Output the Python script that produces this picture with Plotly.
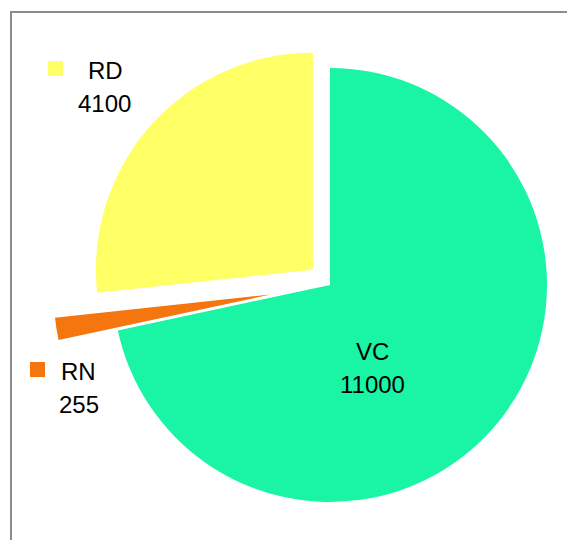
import math
import plotly.graph_objects as go

# ---- data ----
labels = ["VC", "RN", "RD"]
values = [11000, 255, 4100]
colors = ["#19F5A5", "#F5760F", "#FFFF66"]
explode_px = [0, 60, 23]          # how far each slice is pulled out (pixels)

# label placement (pixel centres in the window) – style only
label_pos = {"VC": (372, 351), "RN": (78, 371), "RD": (105, 70)}
value_pos = {"VC": (372, 385), "RN": (79, 404), "RD": (104, 103)}
key_pos = {"RN": (30, 362), "RD": (48, 61)}

W, H = 567, 540
CX, CY, R = 330, 285, 217
FONT = "Liberation Sans"
FS = 24


def px(x):
    return x / W


def py(y):
    return 1 - y / H


total = float(sum(values))
fig = go.Figure()
cum = 0.0
for i, (lab, v) in enumerate(zip(labels, values)):
    mid = (cum + v / 2.0) / total * 2 * math.pi
    cum += v
    cx = CX + math.sin(mid) * explode_px[i]
    cy = CY - math.cos(mid) * explode_px[i]
    cols = [c if j == i else "rgba(0,0,0,0)" for j, c in enumerate(colors)]
    fig.add_trace(go.Pie(
        labels=labels, values=values, sort=False, direction="clockwise",
        rotation=0, textinfo="none", showlegend=False, hoverinfo="label+value",
        marker=dict(colors=cols, line=dict(width=0)),
        domain=dict(x=[px(cx - R), px(cx + R)], y=[py(cy + R), py(cy - R)]),
    ))

annotations = []
shapes = []
for lab, v in zip(labels, values):
    lx, ly = label_pos[lab]
    vx, vy = value_pos[lab]
    annotations.append(dict(text=lab, x=px(lx), y=py(ly), xref="paper", yref="paper",
                            showarrow=False, xanchor="center", yanchor="middle",
                            font=dict(family=FONT, size=FS, color="#000000")))
    annotations.append(dict(text=f"{v}", x=px(vx), y=py(vy), xref="paper", yref="paper",
                            showarrow=False, xanchor="center", yanchor="middle",
                            font=dict(family=FONT, size=FS, color="#000000")))
    if lab in key_pos:
        kx, ky = key_pos[lab]
        col = colors[labels.index(lab)]
        shapes.append(dict(type="rect", xref="paper", yref="paper",
                           x0=px(kx), x1=px(kx + 15), y0=py(ky + 15), y1=py(ky),
                           fillcolor=col, line=dict(width=0)))

# chart frame: only left and top edges are inside the window
shapes.append(dict(type="line", xref="paper", yref="paper",
                   x0=px(11), x1=px(11), y0=py(12), y1=0,
                   line=dict(color="#8c8c8c", width=2)))
shapes.append(dict(type="line", xref="paper", yref="paper",
                   x0=px(10), x1=1, y0=py(12), y1=py(12),
                   line=dict(color="#8c8c8c", width=2)))

fig.update_layout(width=W, height=H, margin=dict(l=0, r=0, t=0, b=0),
                  paper_bgcolor="white", plot_bgcolor="white",
                  annotations=annotations, shapes=shapes)

fig.write_html(
    "out.html",
    config={"displayModeBar": False},
    post_script=("document.documentElement.style.margin='0';"
                 "document.body.style.margin='0';"
                 "document.documentElement.style.overflow='hidden';"
                 "document.body.style.overflow='hidden';"),
)
